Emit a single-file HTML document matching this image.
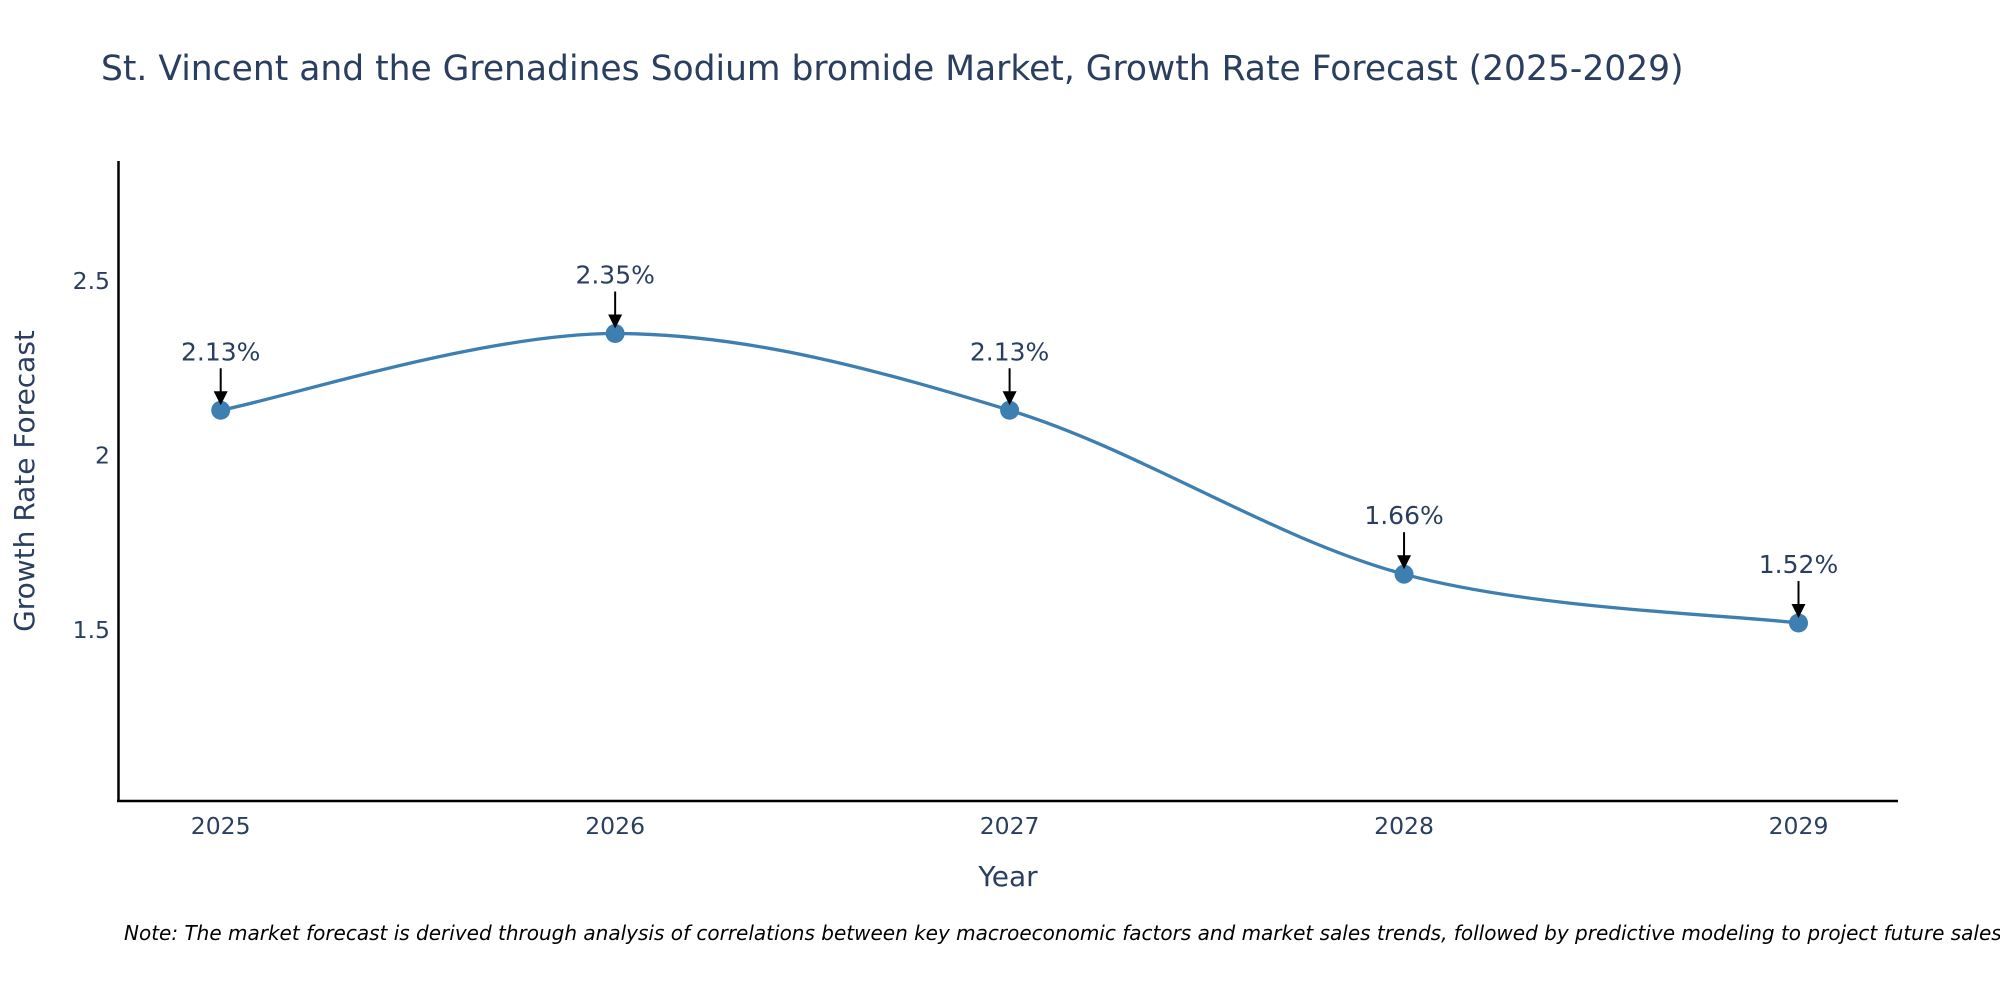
<!DOCTYPE html>
<html><head><meta charset="utf-8"><style>
body{margin:0;background:#fff;}
svg{font-family:"DejaVu Sans","Liberation Sans",sans-serif;}
</style></head><body>
<svg id="chart" width="2000" height="1000" xmlns="http://www.w3.org/2000/svg">
<text x="101" y="80" font-size="34.5" fill="#2a3f5f">St. Vincent and the Grenadines Sodium bromide Market, Growth Rate Forecast (2025-2029)</text>
<g id="yticks"></g><g id="xticks"></g>
<line x1="118.5" y1="161" x2="118.5" y2="802" stroke="#000" stroke-width="2.5"/>
<line x1="117" y1="801" x2="1898" y2="801" stroke="#000" stroke-width="2.5"/>
<path id="line" fill="none" stroke="#3d7fb0" stroke-width="3.3"/>
<g id="marks"></g>
<text x="1008" y="886" font-size="28" fill="#2a3f5f" text-anchor="middle">Year</text>
<text transform="translate(34,481) rotate(-90)" font-size="28" fill="#2a3f5f" text-anchor="middle">Growth Rate Forecast</text>
<text x="124" y="940" font-size="20" font-style="italic" fill="#000">Note: The market forecast is derived through analysis of correlations between key macroeconomic factors and market sales trends, followed by predictive modeling to project future sales.</text>
</svg>
<script>
const years=[2025,2026,2027,2028,2029];
const values=[2.13,2.35,2.13,1.66,1.52];
const labels=["2.13%","2.35%","2.13%","1.66%","1.52%"];
const yTicks=[1.5,2,2.5];
const yTickLabels=["1.5","2","2.5"];
const NS="http://www.w3.org/2000/svg";
function xs(v){return 220.7+(v-2025)*394.45;}
function ys(v){return 630-(v-1.5)*348.8;}
function mk(tag,attrs,parent){const e=document.createElementNS(NS,tag);for(const k in attrs)e.setAttribute(k,attrs[k]);parent.appendChild(e);return e;}
const yt=document.getElementById('yticks'),xt=document.getElementById('xticks'),mg=document.getElementById('marks');
yTicks.forEach((t,i)=>{const e=mk('text',{x:110,y:ys(t)+8,'font-size':23.5,fill:'#2a3f5f','text-anchor':'end'},yt);e.textContent=yTickLabels[i];

});
years.forEach(y=>{const e=mk('text',{x:xs(y),y:834,'font-size':23.5,fill:'#2a3f5f','text-anchor':'middle'},xt);e.textContent=String(y);

});
const P=years.map((y,i)=>[xs(y),ys(values[i])]);
let d=`M${P[0][0]},${P[0][1]}`;
for(let i=0;i<P.length-1;i++){const p0=P[Math.max(i-1,0)],p1=P[i],p2=P[i+1],p3=P[Math.min(i+2,P.length-1)];
const c1=[p1[0]+(p2[0]-p0[0])/6,p1[1]+(p2[1]-p0[1])/6],c2=[p2[0]-(p3[0]-p1[0])/6,p2[1]-(p3[1]-p1[1])/6];
d+=` C${c1[0]},${c1[1]} ${c2[0]},${c2[1]} ${p2[0]},${p2[1]}`;}
document.getElementById('line').setAttribute('d',d);
P.forEach((p,i)=>{
const c=mk('circle',{cx:p[0],cy:p[1],r:9.5,fill:'#3d7fb0'},mg);


const l=mk('line',{x1:p[0],y1:p[1]-42,x2:p[0],y2:p[1]-18,stroke:'#000','stroke-width':2},mg);


const h=mk('polygon',{points:`${p[0]-7},${p[1]-19} ${p[0]+7},${p[1]-19} ${p[0]},${p[1]-5}`,fill:'#000'},mg);


const t=mk('text',{x:p[0],y:p[1]-50,'font-size':25,fill:'#2a3f5f','text-anchor':'middle'},mg);t.textContent=labels[i];


});
</script>
</body></html>
